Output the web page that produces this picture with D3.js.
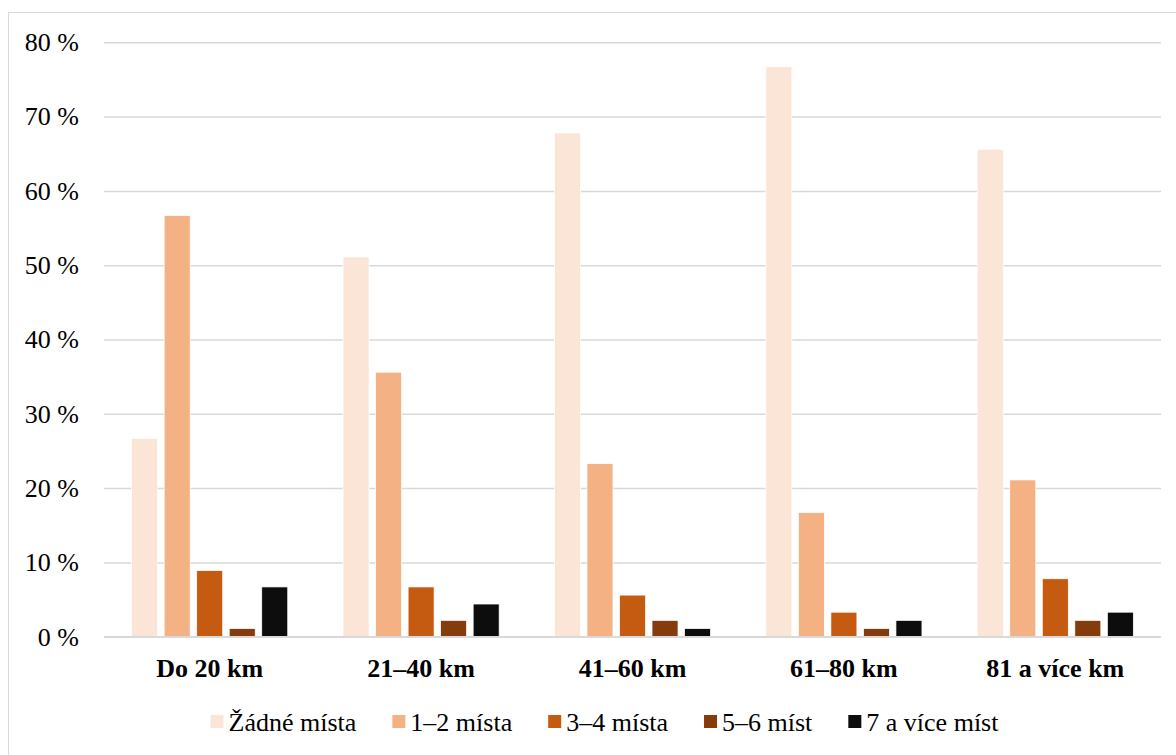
<!DOCTYPE html>
<html>
<head>
<meta charset="utf-8">
<script src="https://cdn.jsdelivr.net/npm/d3@7"></script>
<style>
  html, body { margin: 0; padding: 0; background: #fff; }
  svg { display: block; }
  svg text { font-family: "Liberation Serif", "Times New Roman", Tinos, "DejaVu Serif", serif !important; fill: #000; }
</style>
</head>
<body>
<svg id="chart" width="1176" height="755"></svg>
<script>
const categories = ["Do 20 km", "21–40 km", "41–60 km", "61–80 km", "81 a více km"];
const seriesNames = ["Žádné místa", "1–2 místa", "3–4 místa", "5–6 míst", "7 a více míst"];
const seriesColors = ["#FBE5D6", "#F4B183", "#C55A11", "#843C0C", "#0D0D0D"];
const zadne   = [26.7, 51.1, 67.8, 76.7, 65.6];
const mista12 = [56.7, 35.6, 23.3, 16.7, 21.1];
const mista34 = [8.9, 6.7, 5.6, 3.3, 7.8];
const mist56  = [1.1, 2.2, 2.2, 1.1, 2.2];
const mist7   = [6.7, 4.4, 1.1, 2.2, 3.3];
const yTicks  = [0, 10, 20, 30, 40, 50, 60, 70, 80];
const seriesValues = [zadne, mista12, mista34, mist56, mist7];

const FONT = '"Liberation Serif", "Times New Roman", Tinos, "DejaVu Serif", serif';
const svg = d3.select("#chart");
const plotLeft = 104, plotRight = 1161, plotTop = 42.3, plotBottom = 636.7;

// outer frame
svg.append("rect").attr("x", 8.5).attr("y", 12.5).attr("width", 1200).attr("height", 800)
  .attr("fill", "none").attr("stroke", "#D9D9D9").attr("stroke-width", 1);

const x0 = d3.scaleBand().domain(categories).range([plotLeft, plotRight]).paddingInner(0).paddingOuter(0);
const x1 = d3.scaleBand().domain(seriesNames).range([0, x0.bandwidth()]).paddingInner(0.2).paddingOuter(0.85);
const y = d3.scaleLinear().domain([0, 80]).range([plotBottom, plotTop]);

// gridlines + y labels
const yAxis = d3.axisLeft(y).tickValues(yTicks).tickSize(-(plotRight - plotLeft)).tickFormat(d => d + " %").tickPadding(25);
const gy = svg.append("g").attr("transform", `translate(${plotLeft},0)`).call(yAxis)
  .attr("font-family", FONT).attr("font-size", 26);
gy.select(".domain").remove();
gy.selectAll(".tick line").attr("stroke", "#D9D9D9").attr("stroke-width", 1.5);
gy.selectAll(".tick text").attr("fill", "#000").attr("dy", "0.32em");

// bars
const data = [];
categories.forEach((c, i) => seriesNames.forEach((s, j) => data.push({c, s, v: seriesValues[j][i], col: seriesColors[j]})));
svg.append("g").selectAll("rect").data(data).join("rect")
  .attr("x", d => x0(d.c) + x1(d.s))
  .attr("y", d => y(d.v))
  .attr("width", x1.bandwidth())
  .attr("height", d => y(0) - y(d.v))
  .attr("fill", d => d.col)
  .attr("stroke", "#fff").attr("stroke-width", 0.75);

// baseline on top
svg.append("line").attr("x1", plotLeft).attr("x2", plotRight).attr("y1", y(0)).attr("y2", y(0))
  .attr("stroke", "#D9D9D9").attr("stroke-width", 1.5);

// x axis labels
const xAxis = d3.axisBottom(x0).tickSize(0).tickPadding(0);
const gx = svg.append("g").attr("transform", `translate(0,${plotBottom})`).call(xAxis)
  .attr("font-family", FONT).attr("font-size", 26).attr("font-weight", "bold");
gx.select(".domain").remove();
gx.selectAll(".tick text").attr("fill", "#000").attr("dy", 0).attr("y", 40);

// legend
const legend = svg.append("g").attr("font-family", FONT).attr("font-size", 26);
const items = legend.selectAll("g").data(seriesNames).join("g");
items.append("rect").attr("width", 13).attr("height", 13).attr("y", -16)
  .attr("fill", (d, i) => seriesColors[i]);
items.append("text").attr("x", 18).text(d => d);
const gap = 36;
let xpos = 0;
items.each(function() {
  const g = d3.select(this);
  const w = 18 + g.select("text").node().getComputedTextLength();
  g.attr("transform", `translate(${xpos},0)`);
  xpos += w + gap;
});
const total = xpos - gap;
legend.attr("transform", `translate(${604.5 - total / 2},731)`);
</script>
</body>
</html>
